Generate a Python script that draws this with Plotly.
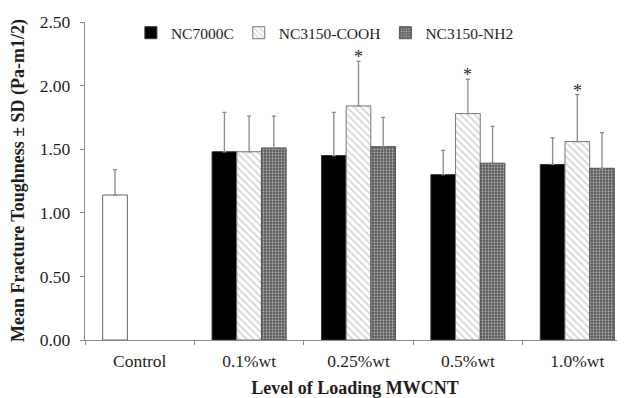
import plotly.graph_objects as go

control_label = ["Control"]
control_value = [1.14]
control_sd = [0.20]
loadings = ["0.1%wt", "0.25%wt", "0.5%wt", "1.0%wt"]
categories = control_label + loadings
nc7000c = [1.48, 1.45, 1.30, 1.38]
nc7000c_sd = [0.31, 0.34, 0.19, 0.21]
cooh = [1.48, 1.84, 1.78, 1.56]
cooh_sd = [0.28, 0.35, 0.27, 0.37]
nh2 = [1.51, 1.52, 1.39, 1.35]
nh2_sd = [0.25, 0.23, 0.29, 0.28]
significant = [False, True, True, True]
y_ticks = [0, 0.5, 1.0, 1.5, 2.0, 2.5]

FONT = "Liberation Serif, Times New Roman, serif"
TXT = "#1e1e1e"
AX = "#8a8a8a"


def err(sd):
    return dict(type="data", symmetric=False, array=sd, arrayminus=[0] * len(sd),
                color=AX, thickness=1.3, width=2)


fig = go.Figure()
fig.add_trace(go.Bar(
    name="Control", x=control_label, y=control_value, offsetgroup="a",
    marker=dict(color="white", line=dict(color="#666", width=1)),
    error_y=err(control_sd), showlegend=False,
))
fig.add_trace(go.Bar(
    name="NC7000C", x=loadings, y=nc7000c, offsetgroup="a",
    marker=dict(color="black", line=dict(color="#333", width=1)),
    error_y=err(nc7000c_sd),
))
fig.add_trace(go.Bar(
    name="NC3150-COOH", x=loadings, y=cooh, offsetgroup="b",
    marker=dict(color="white", line=dict(color="#777", width=1),
                pattern=dict(shape="\\", fgcolor="#b0b0b0", bgcolor="white", size=5, solidity=0.35)),
    error_y=err(cooh_sd),
))
fig.add_trace(go.Bar(
    name="NC3150-NH2", x=loadings, y=nh2, offsetgroup="c",
    marker=dict(color="#505050", line=dict(color="#555", width=1),
                pattern=dict(shape=".", fgcolor="white", bgcolor="#505050", size=3, solidity=0.45)),
    error_y=err(nh2_sd),
))

for cat, v, sd, sig in zip(loadings, cooh, cooh_sd, significant):
    if sig:
        fig.add_annotation(x=cat, y=v + sd, text="*", showarrow=False, yshift=4,
                           font=dict(family=FONT, size=18, color="#2a2a2a"))

# y-axis title placed as a rotated annotation so it can sit close to the edge
fig.add_annotation(text="<b>Mean Fracture Toughness ± SD (Pa-m1/2)</b>", textangle=-90,
                   xref="paper", yref="paper", x=0, y=0.5, xanchor="center", yanchor="middle",
                   xshift=-67, showarrow=False, font=dict(family=FONT, size=18, color=TXT))

# the page body adds an 8px offset, so the figure is sized to compensate
fig.update_layout(
    width=617, height=390,
    margin=dict(l=77, r=0, t=14, b=58, autoexpand=False),
    paper_bgcolor="white", plot_bgcolor="white",
    barmode="group", bargap=0.323, bargroupgap=0,
    font=dict(family=FONT, color=TXT),
    legend=dict(orientation="h", x=0.085, y=0.965, xanchor="left", yanchor="middle",
                font=dict(family=FONT, size=15.5, color=TXT), traceorder="normal",
                bgcolor="rgba(0,0,0,0)"),
    xaxis=dict(range=[-0.5, 4.436], showline=True, linecolor=AX, linewidth=1.3,
               categoryorder="array", categoryarray=categories,
               ticks="outside", tickson="boundaries", ticklen=4, tickcolor=AX,
               ticklabelstandoff=5,
               tickfont=dict(family=FONT, size=17.5, color=TXT),
               title=dict(text="<b>Level of Loading MWCNT</b>", standoff=20,
                          font=dict(family=FONT, size=18, color=TXT)),
               showgrid=False),
    yaxis=dict(range=[0, 2.5], tickvals=y_ticks, tickformat=".2f", showline=True,
               linecolor=AX, linewidth=1.3, ticks="outside", ticklen=4,
               tickcolor=AX, ticklabelstandoff=6,
               tickfont=dict(family=FONT, size=17.5, color=TXT),
               showgrid=False, zeroline=False),
)

fig.write_html("out.html")
